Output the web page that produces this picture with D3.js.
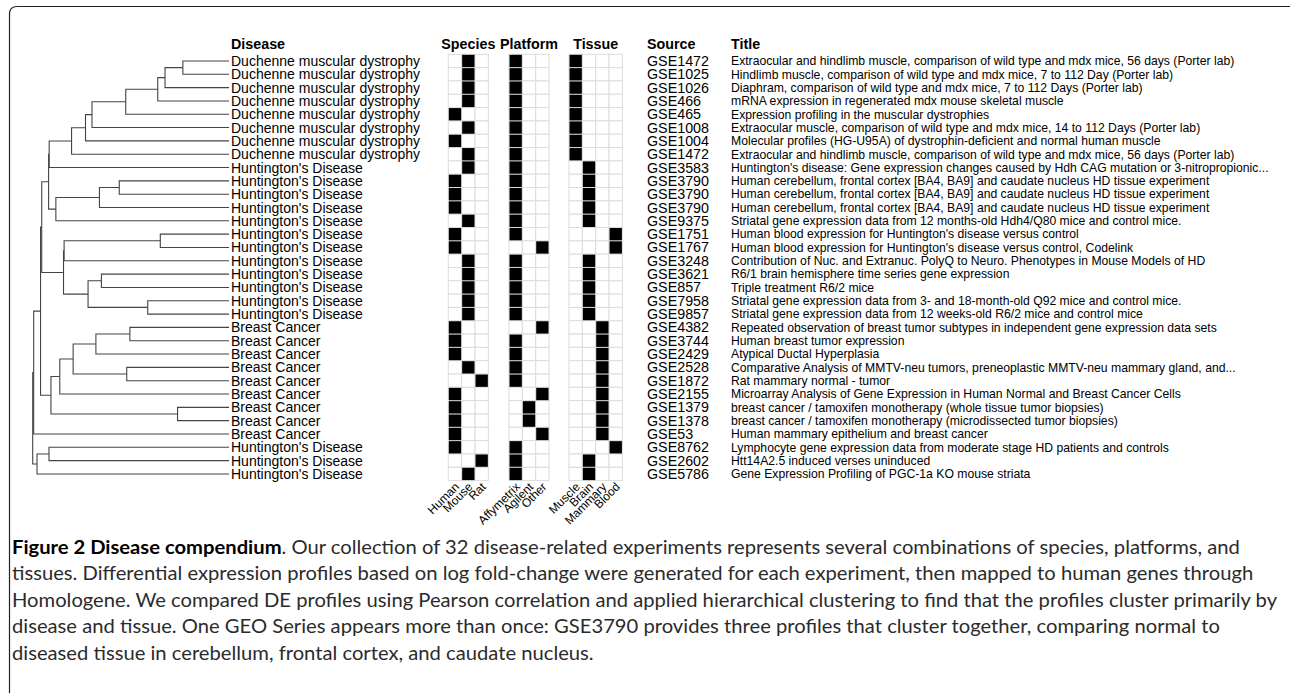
<!DOCTYPE html>
<html>
<head>
<meta charset="utf-8">
<script src="https://d3js.org/d3.v7.min.js"></script>
<style>
  html, body { margin: 0; padding: 0; background: #fff; }
  svg { display: block; }
</style>
</head>
<body>
<svg id="fig" width="1290" height="693"></svg>
<script>
// disease compendium figure - dendrogram + attribute grids + GEO sources

const diseases = [
  "Duchenne muscular dystrophy", "Duchenne muscular dystrophy", "Duchenne muscular dystrophy",
  "Duchenne muscular dystrophy", "Duchenne muscular dystrophy", "Duchenne muscular dystrophy",
  "Duchenne muscular dystrophy", "Duchenne muscular dystrophy",
  "Huntington's Disease", "Huntington's Disease", "Huntington's Disease", "Huntington's Disease",
  "Huntington's Disease", "Huntington's Disease", "Huntington's Disease", "Huntington's Disease",
  "Huntington's Disease", "Huntington's Disease", "Huntington's Disease", "Huntington's Disease",
  "Breast Cancer", "Breast Cancer", "Breast Cancer", "Breast Cancer", "Breast Cancer",
  "Breast Cancer", "Breast Cancer", "Breast Cancer", "Breast Cancer",
  "Huntington's Disease", "Huntington's Disease", "Huntington's Disease"
];

const sources = [
  "GSE1472", "GSE1025", "GSE1026", "GSE466", "GSE465", "GSE1008", "GSE1004", "GSE1472",
  "GSE3583", "GSE3790", "GSE3790", "GSE3790", "GSE9375", "GSE1751", "GSE1767", "GSE3248",
  "GSE3621", "GSE857", "GSE7958", "GSE9857", "GSE4382", "GSE3744", "GSE2429", "GSE2528",
  "GSE1872", "GSE2155", "GSE1379", "GSE1378", "GSE53", "GSE8762", "GSE2602", "GSE5786"
];

const titles = [
  "Extraocular and hindlimb muscle, comparison of wild type and mdx mice, 56 days (Porter lab)",
  "Hindlimb muscle, comparison of wild type and mdx mice, 7 to 112 Day (Porter lab)",
  "Diaphram, comparison of wild type and mdx mice, 7 to 112 Days (Porter lab)",
  "mRNA expression in regenerated mdx mouse skeletal muscle",
  "Expression profiling in the muscular dystrophies",
  "Extraocular muscle, comparison of wild type and mdx mice, 14 to 112 Days (Porter lab)",
  "Molecular profiles (HG-U95A) of dystrophin-deficient and normal human muscle",
  "Extraocular and hindlimb muscle, comparison of wild type and mdx mice, 56 days (Porter lab)",
  "Huntington's disease: Gene expression changes caused by Hdh CAG mutation or 3-nitropropionic...",
  "Human cerebellum, frontal cortex [BA4, BA9] and caudate nucleus HD tissue experiment",
  "Human cerebellum, frontal cortex [BA4, BA9] and caudate nucleus HD tissue experiment",
  "Human cerebellum, frontal cortex [BA4, BA9] and caudate nucleus HD tissue experiment",
  "Striatal gene expression data from 12 months-old Hdh4/Q80 mice and control mice.",
  "Human blood expression for Huntington's disease versus control",
  "Human blood expression for Huntington's disease versus control, Codelink",
  "Contribution of Nuc. and Extranuc. PolyQ to Neuro. Phenotypes in Mouse Models of HD",
  "R6/1 brain hemisphere time series gene expression",
  "Triple treatment R6/2 mice",
  "Striatal gene expression data from 3- and 18-month-old Q92 mice and control mice.",
  "Striatal gene expression data from 12 weeks-old R6/2 mice and control mice",
  "Repeated observation of breast tumor subtypes in independent gene expression data sets",
  "Human breast tumor expression",
  "Atypical Ductal Hyperplasia",
  "Comparative Analysis of MMTV-neu tumors, preneoplastic MMTV-neu mammary gland, and...",
  "Rat mammary normal - tumor",
  "Microarray Analysis of Gene Expression in Human Normal and Breast Cancer Cells",
  "breast cancer / tamoxifen monotherapy (whole tissue tumor biopsies)",
  "breast cancer / tamoxifen monotherapy (microdissected tumor biopsies)",
  "Human mammary epithelium and breast cancer",
  "Lymphocyte gene expression data from moderate stage HD patients and controls",
  "Htt14A2.5 induced verses uninduced",
  "Gene Expression Profiling of PGC-1a KO mouse striata"
];

const speciesLevels = ["Human", "Mouse", "Rat"];
const platformLevels = ["Affymetrix", "Agilent", "Other"];
const tissueLevels = ["Muscle", "Brain", "Mammary", "Blood"];

const speciesOf = [
  "Mouse", "Mouse", "Mouse", "Mouse", "Human", "Mouse", "Human", "Mouse",
  "Mouse", "Human", "Human", "Human", "Mouse", "Human", "Human", "Mouse",
  "Mouse", "Mouse", "Mouse", "Mouse", "Human", "Human", "Human", "Mouse",
  "Rat", "Human", "Human", "Human", "Human", "Human", "Rat", "Mouse"
];
const platformOf = [
  "Affymetrix", "Affymetrix", "Affymetrix", "Affymetrix", "Affymetrix", "Affymetrix", "Affymetrix", "Affymetrix",
  "Affymetrix", "Affymetrix", "Affymetrix", "Affymetrix", "Affymetrix", "Affymetrix", "Other", "Affymetrix",
  "Affymetrix", "Affymetrix", "Affymetrix", "Affymetrix", "Other", "Affymetrix", "Affymetrix", "Affymetrix",
  "Affymetrix", "Other", "Agilent", "Agilent", "Other", "Affymetrix", "Affymetrix", "Affymetrix"
];
const tissueOf = [
  "Muscle", "Muscle", "Muscle", "Muscle", "Muscle", "Muscle", "Muscle", "Muscle",
  "Brain", "Brain", "Brain", "Brain", "Brain", "Blood", "Blood", "Brain",
  "Brain", "Brain", "Brain", "Brain", "Mammary", "Mammary", "Mammary", "Mammary",
  "Mammary", "Mammary", "Mammary", "Mammary", "Mammary", "Blood", "Brain", "Brain"
];

// hclust-style merge table: negative = leaf (row index + 1), positive = earlier merge (1-based)
const merges = [
  [-1, -2], [1, -3], [2, -4], [3, -5], [4, -6], [5, -7], [6, -8], [7, -9],
  [-10, -11], [9, -12], [10, -13], [8, 11],
  [-14, -15], [13, -16], [-17, -18], [-19, -20], [15, 16], [14, 17], [12, 18],
  [-21, -22], [20, -23], [-24, -25], [21, 22], [23, -26], [-27, -28], [24, 25],
  [19, 26], [27, -29], [-30, -31], [29, -32], [28, 30]
];
const mergeHeights = [
  0.235, 0.326, 0.363, 0.526, 0.698, 0.731, 0.802, 0.916,
  0.559, 0.660, 0.882, 0.919,
  0.350, 0.840, 0.650, 0.414, 0.718, 0.843, 0.954,
  0.505, 0.678, 0.521, 0.794, 0.862, 0.262, 0.907,
  0.960, 0.995, 0.917, 0.978, 1.000
];

const captionBold = "Figure 2 Disease compendium";
const captionLines = [
  ". Our collection of 32 disease-related experiments represents several combinations of species, platforms, and",
  "tissues. Differential expression profiles based on log fold-change were generated for each experiment, then mapped to human genes through",
  "Homologene. We compared DE profiles using Pearson correlation and applied hierarchical clustering to find that the profiles cluster primarily by",
  "disease and tissue. One GEO Series appears more than once: GSE3790 provides three profiles that cluster together, comparing normal to",
  "diseased tissue in cerebellum, frontal cortex, and caudate nucleus."
];

const svg = d3.select('#fig');
const FONT = 'Liberation Sans, Arial, Helvetica, sans-serif';

// frame (rounded top-left corner)
svg.append('path')
  .attr('d', 'M9.5,693 V14 Q9.5,6.5 17,6.5 H1290')
  .attr('fill', 'none').attr('stroke', '#222').attr('stroke-width', 1.2);

const n = diseases.length;
const y = d3.scaleBand().domain(d3.range(n)).range([54.3, 480.6]);
const yc = i => y(i) + y.bandwidth() / 2;

// dendrogram
const hx = d3.scaleLinear().domain([0, 1]).range([229, 32.7]);
const dendro = svg.append('g').attr('fill', 'none').attr('stroke', '#444').attr('stroke-width', 1.1);
const nodePos = [];
function pos(ref) {
  if (ref < 0) return { x: hx(0), y: yc(-ref - 1) };
  return nodePos[ref - 1];
}
merges.forEach((m, k) => {
  const a = pos(m[0]), b = pos(m[1]);
  const nx = hx(mergeHeights[k]);
  nodePos.push({ x: nx, y: (a.y + b.y) / 2 });
  dendro.append('path')
    .attr('d', `M${a.x},${a.y} H${nx} V${b.y} H${b.x}`);
});

// disease labels
svg.append('g').selectAll('text').data(diseases).join('text')
  .attr('x', 231).attr('y', (d, i) => yc(i) + 5)
  .attr('font-family', FONT).attr('font-size', 14).attr('fill', '#000')
  .text(d => d);

// attribute grids
const cell = 13.35;
const groups = [
  { name: 'Species', levels: speciesLevels, values: speciesOf, x0: 448.3 },
  { name: 'Platform', levels: platformLevels, values: platformOf, x0: 509 },
  { name: 'Tissue', levels: tissueLevels, values: tissueOf, x0: 569 }
];
const gridBottom = y.range()[1];
groups.forEach(grp => {
  const x = d3.scaleBand().domain(grp.levels).range([grp.x0, grp.x0 + grp.levels.length * cell]);
  const g = svg.append('g');
  // background grid cells
  grp.levels.forEach(lv => {
    d3.range(n).forEach(i => {
      g.append('rect')
        .attr('x', x(lv)).attr('y', y(i))
        .attr('width', x.bandwidth()).attr('height', y.bandwidth())
        .attr('fill', '#fff').attr('stroke', '#dcdcdc').attr('stroke-width', 1);
    });
  });
  // filled cells
  g.selectAll('rect.on').data(grp.values).join('rect')
    .attr('class', 'on')
    .attr('x', d => x(d) + 0.5).attr('y', (d, i) => y(i) + 0.5)
    .attr('width', x.bandwidth() - 1).attr('height', y.bandwidth() - 1)
    .attr('fill', '#000');
  // header
  svg.append('text')
    .attr('x', grp.x0 + grp.levels.length * cell / 2).attr('y', 48.5)
    .attr('text-anchor', 'middle')
    .attr('font-family', FONT).attr('font-size', 14.3).attr('font-weight', 'bold')
    .text(grp.name);
  // rotated level labels
  grp.levels.forEach(lv => {
    const ax = x(lv) + x.bandwidth() / 2 + 5, ay = gridBottom + 7;
    svg.append('text')
      .attr('transform', `translate(${ax},${ay}) rotate(-45)`)
      .attr('text-anchor', 'end')
      .attr('font-family', FONT).attr('font-size', 12)
      .text(lv);
  });
});

// headers
[['Disease', 231], ['Source', 647], ['Title', 731]].forEach(([t, hxPos]) => {
  svg.append('text')
    .attr('x', hxPos).attr('y', 48.5)
    .attr('font-family', FONT).attr('font-size', 14.3).attr('font-weight', 'bold')
    .text(t);
});

// sources + titles
svg.append('g').selectAll('text').data(sources).join('text')
  .attr('x', 647).attr('y', (d, i) => yc(i) + 5)
  .attr('font-family', FONT).attr('font-size', 14.3)
  .text(d => d);
svg.append('g').selectAll('text').data(titles).join('text')
  .attr('x', 731).attr('y', (d, i) => yc(i) + 4.3)
  .attr('font-family', FONT).attr('font-size', 12.2)
  .text(d => d);

// caption
const cap = svg.append('g').attr('font-family', 'Lato, "Open Sans", sans-serif').attr('font-size', 18.5);
const capNodes = [];
captionLines.forEach((line, i) => {
  const t = cap.append('text').attr('x', 0).attr('y', i * 26.5).attr('fill', '#2b2b2b');
  if (i === 0) {
    t.append('tspan').attr('font-weight', 'bold').attr('fill', '#000').text(captionBold);
  }
  t.append('tspan').text(line);
  capNodes.push(t.node());
});
// stretch caption horizontally so the longest line spans the figure width
const widest = d3.max(capNodes, nd => nd.getComputedTextLength());
const sx = 1266 / widest;
cap.attr('transform', `translate(12,554) scale(${sx},1)`);
</script>
</body>
</html>
